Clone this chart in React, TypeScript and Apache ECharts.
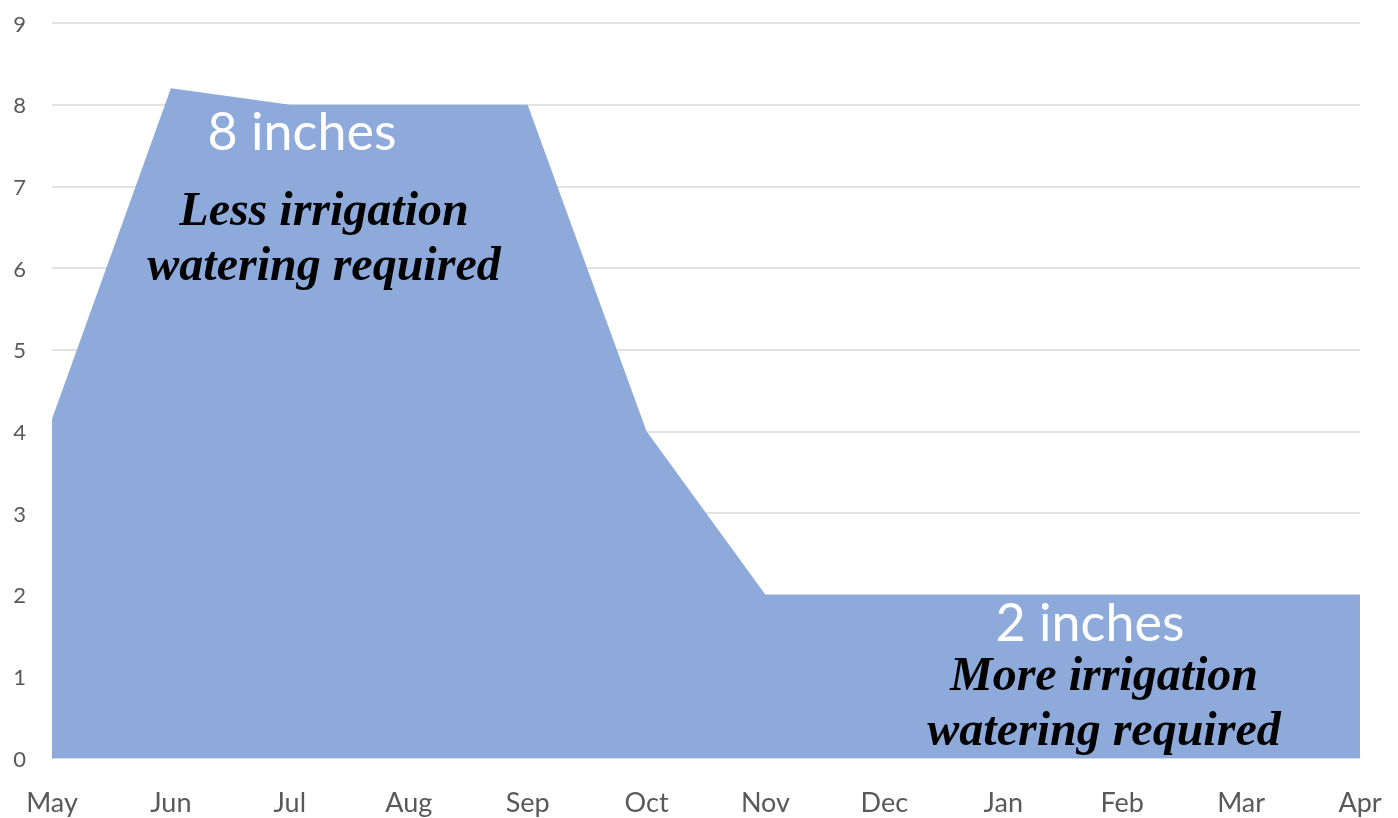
import React, { useEffect, useRef } from "react";
import * as echarts from "echarts";

const months = ["May", "Jun", "Jul", "Aug", "Sep", "Oct", "Nov", "Dec", "Jan", "Feb", "Mar", "Apr"];
const rainfall = [4.15, 8.2, 8.0, 8.0, 8.0, 4.0, 2.0, 2.0, 2.0, 2.0, 2.0, 2.0];
const yTicks = { min: 0, max: 9, interval: 1 };

export default function App() {
  const ref = useRef<HTMLDivElement>(null);
  useEffect(() => {
    if (!ref.current) return;
    const chart = echarts.init(ref.current, null, { renderer: "svg" });
    const labelFont = "Lato, 'Open Sans', sans-serif";
    const serif = "'Liberation Serif', 'DejaVu Serif', serif";
    chart.setOption({
      animation: false,
      grid: { left: 52, right: 38, top: 23, bottom: 60, containLabel: false },
      xAxis: {
        type: "category",
        data: months,
        boundaryGap: false,
        axisLine: { show: true, lineStyle: { color: "#d9d9d9" } },
        axisTick: { show: false },
        axisLabel: { color: "#595959", fontSize: 27, fontFamily: labelFont, margin: 30 },
        splitLine: { show: false },
      },
      yAxis: {
        type: "value",
        min: yTicks.min,
        max: yTicks.max,
        interval: yTicks.interval,
        axisLine: { show: false },
        axisTick: { show: false },
        axisLabel: { color: "#595959", fontSize: 22, fontFamily: labelFont, margin: 26 },
        splitLine: { lineStyle: { color: "#d9d9d9", width: 1.5 } },
      },
      series: [
        {
          type: "line",
          data: rainfall,
          symbol: "none",
          lineStyle: { width: 0 },
          areaStyle: { color: "#8eaadb", opacity: 1 },
          z: 3,
        },
      ],
      graphic: [
        {
          type: "text",
          x: 302,
          y: 130,
          z: 10,
          style: {
            text: "8 inches",
            fill: "#ffffff",
            font: `52px ${labelFont}`,
            lineHeight: 44,
            align: "center",
            verticalAlign: "middle",
          },
        },
        {
          type: "text",
          x: 324,
          y: 236,
          z: 10,
          style: {
            text: "Less irrigation\nwatering required",
            fill: "#000000",
            font: `italic bold 48px ${serif}`,
            lineHeight: 55,
            align: "center",
            verticalAlign: "middle",
          },
        },
        {
          type: "text",
          x: 1090,
          y: 621,
          z: 10,
          style: {
            text: "2 inches",
            fill: "#ffffff",
            font: `52px ${labelFont}`,
            lineHeight: 44,
            align: "center",
            verticalAlign: "middle",
          },
        },
        {
          type: "text",
          x: 1104,
          y: 701,
          z: 10,
          style: {
            text: "More irrigation\nwatering required",
            fill: "#000000",
            font: `italic bold 48px ${serif}`,
            lineHeight: 55,
            align: "center",
            verticalAlign: "middle",
          },
        },
      ],
    });
    return () => chart.dispose();
  }, []);
  return <div ref={ref} style={{ position: "fixed", left: 0, top: 0, width: 1398, height: 818 }} />;
}
